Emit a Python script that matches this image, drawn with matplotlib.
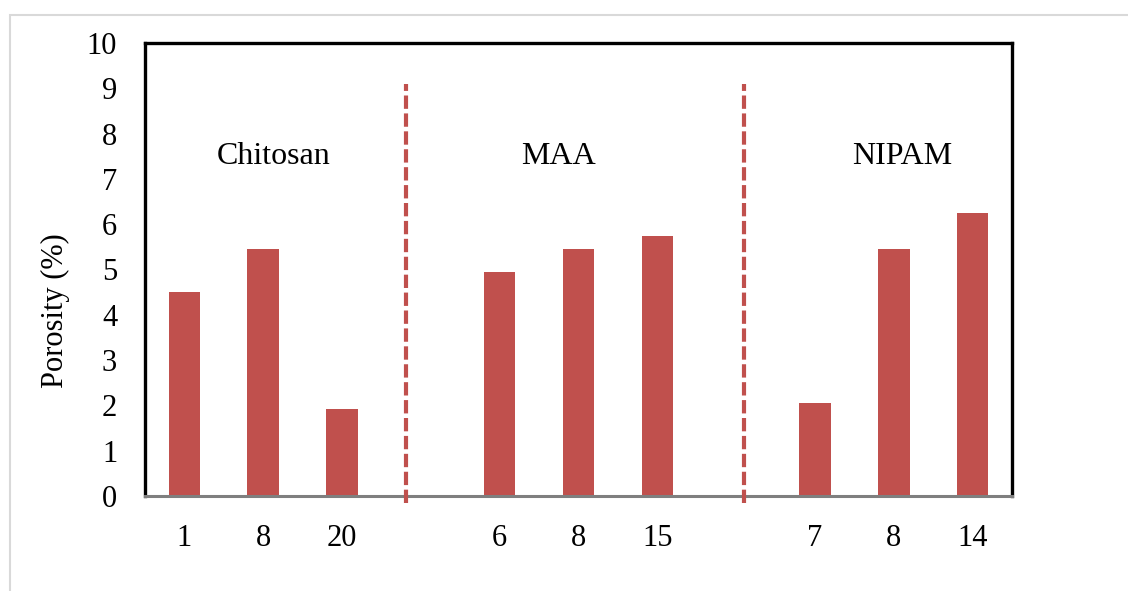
import numpy as np
import matplotlib.pyplot as plt
from matplotlib.patches import Rectangle

plt.rcParams['font.family'] = ['Liberation Serif', 'DejaVu Serif']

# crosslinker content for each sample, grouped by monomer
labels = ['1', '8', '20', '6', '8', '15', '7', '8', '14']
porosity = [4.5, 5.45, 1.93, 4.95, 5.45, 5.75, 2.05, 5.45, 6.25]
groups = ['Chitosan', 'MAA', 'NIPAM']

# bar slots: three per group, one empty slot between groups
pos = np.array([0, 1, 2, 4, 5, 6, 8, 9, 10])
sep_x = [2.81, 7.10]
group_x = [1.13, 4.74, 9.11]

bar_color = '#C0504D'

fig = plt.figure(figsize=(11.28, 5.91), dpi=100)
ax = fig.add_axes([145/1128, 1 - 496/591, (1012-145)/1128, (496-43)/591])

ax.bar(pos, porosity, width=0.4, color=bar_color, zorder=2)

for x in sep_x:
    ax.plot([x, x], [-0.15, 9.1], color=bar_color, lw=3, ls=(0, (3.2, 1.1)),
            clip_on=False, zorder=3)

for x, g in zip(group_x, groups):
    ax.text(x, 7.5, g, ha='center', va='center', fontsize=23)

ax.set_xlim(-0.5, 10.5)
ax.set_ylim(0, 10)
ax.set_yticks(range(0, 11))
ax.set_xticks(pos)
ax.set_xticklabels(labels)
ax.tick_params(length=0, labelsize=22)
ax.tick_params(axis='y', pad=20)
ax.tick_params(axis='x', pad=20)
ax.set_ylabel('Porosity (%)', fontsize=22)
ax.yaxis.set_label_coords(-0.087, 0.41)

for s in ['top', 'left', 'right']:
    ax.spines[s].set_linewidth(2.4)
    ax.spines[s].set_color('black')
ax.spines['bottom'].set_color('#7f7f7f')
ax.spines['bottom'].set_linewidth(2.2)

# chart area border
fig.patches.append(Rectangle((10/1128, -0.1), 1.2, 1 - 15/591 + 0.1,
                             transform=fig.transFigure, fill=False,
                             edgecolor='#d9d9d9', lw=1.5))

fig.savefig('out.png', dpi=100)
